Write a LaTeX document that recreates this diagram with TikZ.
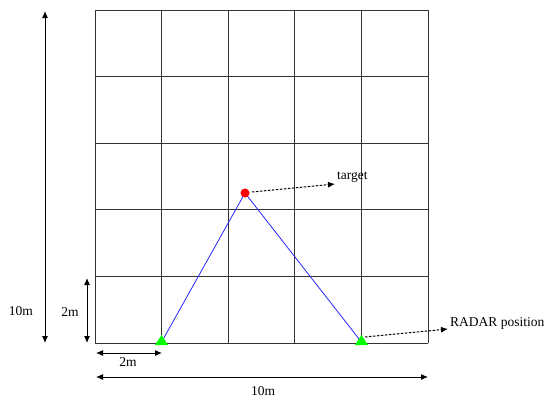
\documentclass[tikz,border=0pt]{standalone}
\usepackage{fontspec}
\setmainfont{Liberation Serif}
\usetikzlibrary{arrows.meta}
\begin{document}
\begin{tikzpicture}[x=1pt,y=-1pt,
  gridline/.style={draw=black!80,line width=1pt},
  dimarrow/.style={draw=black,line width=1pt,{Latex[length=7pt,width=6pt]}-{Latex[length=7pt,width=6pt]}},
  callout/.style={draw=black,line width=1pt,dashed,dash pattern=on 2.5pt off 1.5pt,-{Latex[length=7pt,width=6pt]}},
  ray/.style={draw=blue!85!white,line width=0.8pt},
  lbl/.style={font=\fontsize{13.5}{15}\selectfont,inner sep=0pt},
]
\useasboundingbox (0,0) rectangle (550,399);
% grid
\foreach \i in {0,...,5}{
  \draw[gridline] (95+66.6*\i,10) -- (95+66.6*\i,343);
  \draw[gridline] (95,10+66.6*\i) -- (428,10+66.6*\i);
}
% points
\coordinate (r1) at (161.6,342);
\coordinate (r2) at (361.4,342);
\coordinate (t) at (245,193);
\draw[ray] (r1) -- (t) -- (r2);
\fill[red] (t) circle (4.5);
\fill[green] (155,345) -- (168,345) -- (161.6,335) -- cycle;
\fill[green] (355,345) -- (368,345) -- (361.4,335) -- cycle;
% callouts
\node[lbl,anchor=west] (tl) at (337,177) {target};
\node[lbl,anchor=west] (rl) at (450,323) {RADAR position};
\coordinate (ta) at (252,192);
\coordinate (te) at (335,184);
\draw[callout] (ta) -- (te);
\coordinate (ra) at (365,337);
\coordinate (re) at (448,329);
\draw[callout] (ra) -- (re);
% dimensions
\coordinate (v1a) at (45,11);
\coordinate (v1b) at (45,343);
\draw[dimarrow] (v1a) -- (v1b);
\node[lbl] (v1l) at (21,311) {10m};
\coordinate (v2a) at (87,278);
\coordinate (v2b) at (87,343);
\draw[dimarrow] (v2a) -- (v2b);
\node[lbl] (v2l) at (70,312) {2m};
\coordinate (h1a) at (96,353);
\coordinate (h1b) at (162,353);
\draw[dimarrow] (h1a) -- (h1b);
\node[lbl] (h1l) at (128,362) {2m};
\coordinate (h2a) at (96,377);
\coordinate (h2b) at (428,377);
\draw[dimarrow] (h2a) -- (h2b);
\node[lbl] (h2l) at (263,391) {10m};
\end{tikzpicture}
\end{document}
